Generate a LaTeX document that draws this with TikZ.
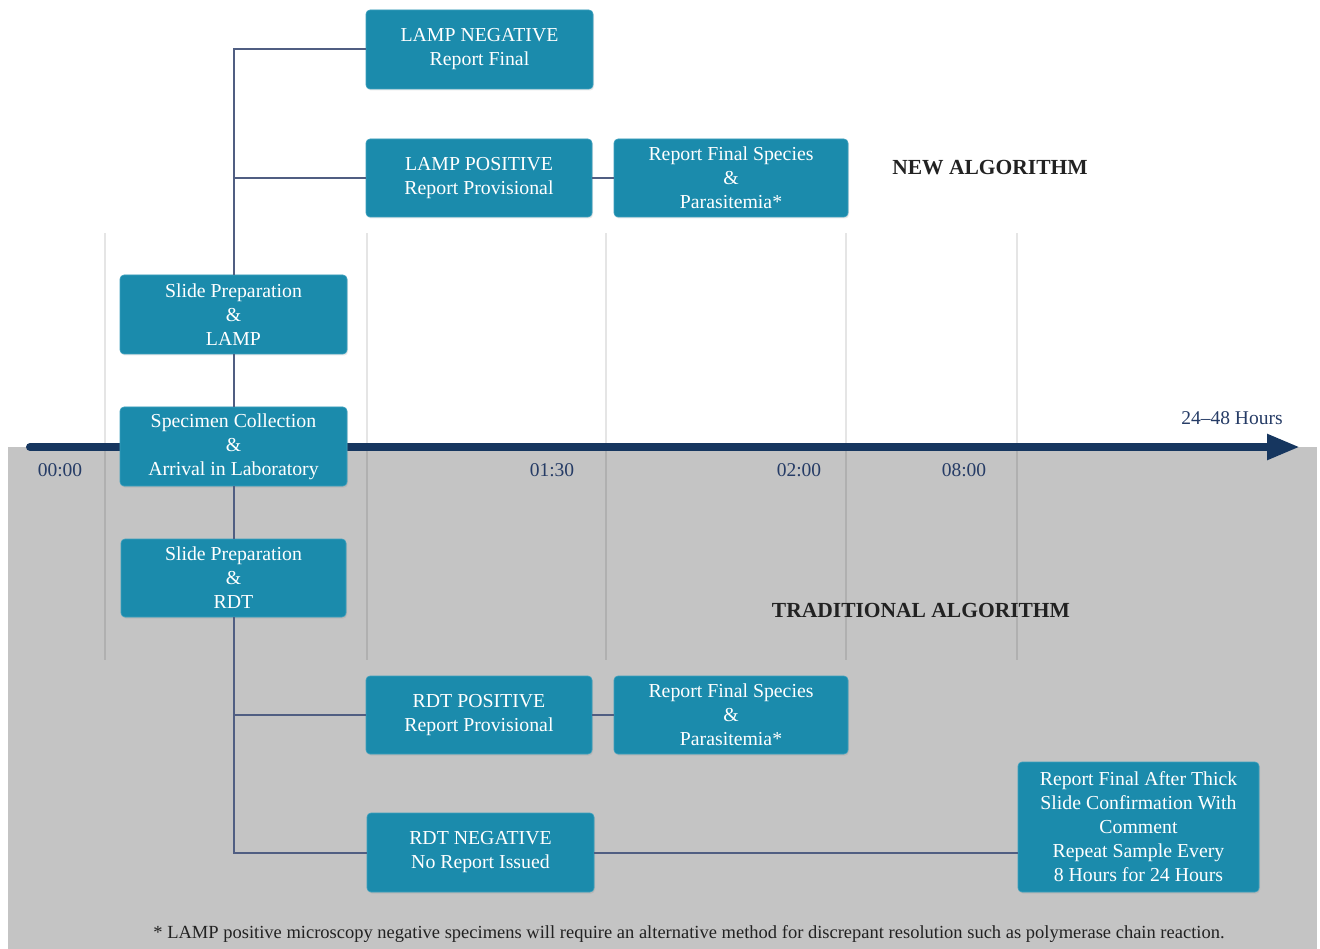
\documentclass[tikz,border=0pt]{standalone}
\usepackage{fontspec}
\setmainfont{Liberation Serif}
\usetikzlibrary{arrows.meta,shadows}
\definecolor{teal1}{RGB}{27,139,172}
\definecolor{tealedge}{RGB}{60,160,190}
\definecolor{navy}{RGB}{22,54,95}
\definecolor{conn}{RGB}{80,94,130}
\definecolor{bggray}{RGB}{196,196,196}
\definecolor{timecol}{RGB}{38,60,102}
\definecolor{darktext}{RGB}{34,34,34}
\tikzset{
  box/.style={fill=teal1, draw=tealedge, line width=0.6pt, rounded corners=4pt, text=white,
    align=center, inner sep=0pt, font=\fontsize{19.8}{24}\selectfont,
    drop shadow={opacity=0.18, shadow xshift=1pt, shadow yshift=-1.5pt}},
  conline/.style={draw=conn, line width=2pt},
  gridline/.style={draw=black, opacity=0.1, line width=1.5pt},
  timelbl/.style={text=timecol, font=\fontsize{19.5}{24}\selectfont},
  heading/.style={text=darktext, font=\fontsize{21.5}{24}\selectfont\bfseries}
}
\begin{document}
\begin{tikzpicture}[x=1pt,y=-1pt]
\useasboundingbox (0,0) rectangle (1320,949);
\fill[white] (0,0) rectangle (1320,949);
\fill[bggray] (8,447) rectangle (1317,949);
% grid lines
\foreach \gx in {105,367,606,846,1017}
  \draw[gridline] (\gx,233) -- (\gx,660);
% timeline
\coordinate (tlstart) at (30,447);
\coordinate (tlend) at (1300,447);
\draw[navy, line width=8pt, line cap=round, -{Triangle[length=33pt,width=24pt]}] (tlstart) -- (tlend);
% time labels
\node[timelbl] (t0) at (60,470) {00:00};
\node[timelbl] (t1) at (552,470) {01:30};
\node[timelbl] (t2) at (799,470) {02:00};
\node[timelbl] (t3) at (964,470) {08:00};
\node[timelbl] (thrs) at (1232,418) {24--48 Hours};
% headings
\node[heading] (newalg) at (990,168) {NEW ALGORITHM};
\node[heading] (tradalg) at (921,610) {TRADITIONAL ALGORITHM};
% boxes
\node[box, minimum width=227pt, minimum height=79pt] (lampneg) at (479.5,49.5) {LAMP NEGATIVE\\Report Final};
\node[box, minimum width=226pt, minimum height=78pt] (lamppos) at (479,178) {LAMP POSITIVE\\Report Provisional};
\node[box, minimum width=234pt, minimum height=78pt] (repfin1) at (731,178) {Report Final Species\\\&\\Parasitemia*};
\node[box, minimum width=227pt, minimum height=79pt] (slidelamp) at (233.5,314.5) {Slide Preparation\\\&\\LAMP};
\node[box, minimum width=227pt, minimum height=79pt] (spec) at (233.5,446.5) {Specimen Collection\\\&\\Arrival in Laboratory};
\node[box, minimum width=225pt, minimum height=78pt] (sliderdt) at (233.5,578) {Slide Preparation\\\&\\RDT};
\node[box, minimum width=226pt, minimum height=78pt] (rdtpos) at (479,715) {RDT POSITIVE\\Report Provisional};
\node[box, minimum width=234pt, minimum height=78pt] (repfin2) at (731,715) {Report Final Species\\\&\\Parasitemia*};
\node[box, minimum width=227pt, minimum height=79pt] (rdtneg) at (480.5,852.5) {RDT NEGATIVE\\No Report Issued};
\node[box, minimum width=241pt, minimum height=130pt] (repthick) at (1138.5,827) {Report Final After Thick\\Slide Confirmation With\\Comment\\Repeat Sample Every\\8 Hours for 24 Hours};
% connectors
\draw[conline] (slidelamp.north) |- (lampneg.west);
\draw[conline] (slidelamp.north) |- (lamppos.west);
\draw[conline] (lamppos.east) -- (repfin1.west);
\draw[conline] (spec.north) -- (slidelamp.south);
\draw[conline] (spec.south) -- (sliderdt.north);
\draw[conline] (sliderdt.south) |- (rdtpos.west);
\draw[conline] (sliderdt.south) |- (rdtneg.west);
\draw[conline] (rdtpos.east) -- (repfin2.west);
\draw[conline] (rdtneg.east) -- (rdtneg.east -| repthick.west);
% footnote
\node[text=darktext, font=\fontsize{18.5}{22}\selectfont] (foot) at (689,934) {* LAMP positive microscopy negative specimens will require an alternative method for discrepant resolution such as polymerase chain reaction.};
\end{tikzpicture}
\end{document}
